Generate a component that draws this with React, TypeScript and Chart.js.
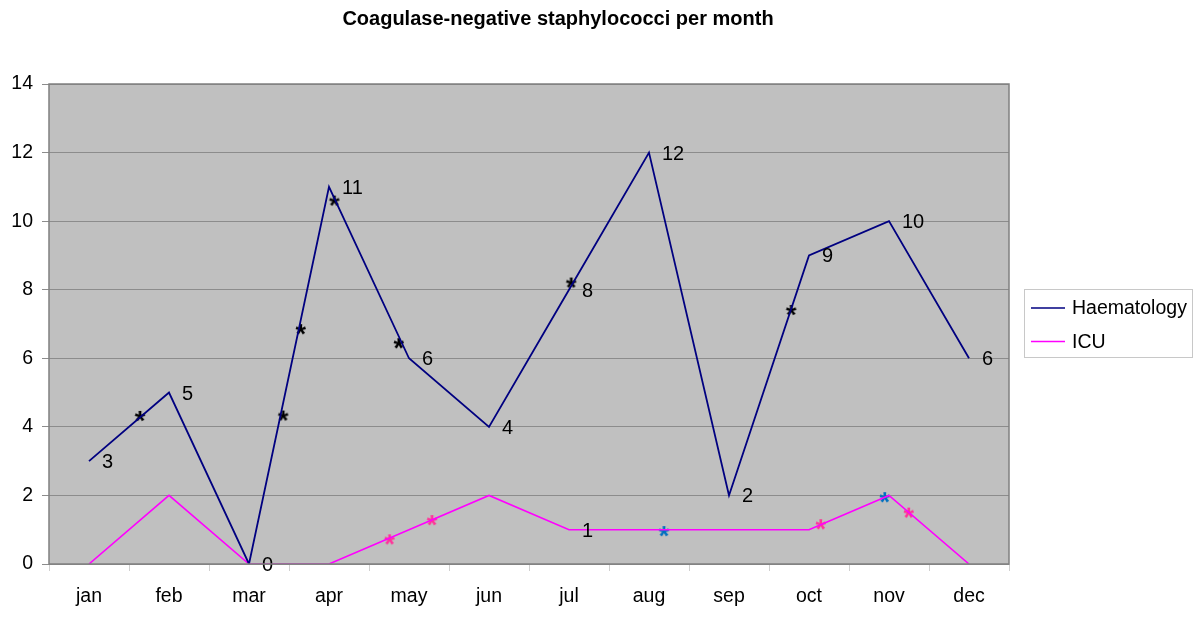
import React, { useEffect, useRef } from 'react';
import { Chart, registerables } from 'chart.js';

Chart.register(...registerables);

const TITLE = 'Coagulase-negative staphylococci per month';
const months = ['jan', 'feb', 'mar', 'apr', 'may', 'jun', 'jul', 'aug', 'sep', 'oct', 'nov', 'dec'];
const haematology = [3, 5, 0, 11, 6, 4, 8, 12, 2, 9, 10, 6];
const icu = [0, 2, 0, 0, 1, 2, 1, 1, 1, 1, 2, 0];
const haematologyLabels = ['3', '5', '0', '11', '6', '4', '8', '12', '2', '9', '10', '6'];
const icuLabels = ['', '', '', '', '', '', '1', '', '', '', '', ''];
const yTicks = [0, 2, 4, 6, 8, 10, 12, 14];

// asterisk annotations (x = fractional month index, y = value)
const blackStarX = [0.64, 2.43, 2.65, 3.07, 3.875, 6.03, 8.78];
const blackStarY = [4.32, 4.33, 6.85, 10.6, 6.44, 8.21, 7.41];
const pinkStarX = [3.76, 4.29, 9.15, 10.25];
const pinkStarY = [0.72, 1.28, 1.16, 1.5];
const blueStarX = [7.19, 9.95];
const blueStarY = [0.96, 1.95];

const FONT = '"Liberation Sans", Arial, sans-serif';

function makeStar(color: string): HTMLCanvasElement {
  const c = document.createElement('canvas');
  c.width = 20;
  c.height = 20;
  const ctx = c.getContext('2d')!;
  ctx.fillStyle = color;
  ctx.font = `bold 27px ${FONT}`;
  ctx.textAlign = 'left';
  ctx.textBaseline = 'alphabetic';
  const m = ctx.measureText('*');
  const w = m.actualBoundingBoxLeft + m.actualBoundingBoxRight;
  const h = m.actualBoundingBoxAscent + m.actualBoundingBoxDescent;
  const x = 10 - w / 2 + m.actualBoundingBoxLeft;
  const y = 10 - h / 2 + m.actualBoundingBoxAscent;
  ctx.fillText('*', x, y);
  return c;
}

const toPts = (xs: number[], ys: number[]) => xs.map((x, i) => ({ x, y: ys[i] }));

export default function App() {
  const ref = useRef<HTMLCanvasElement | null>(null);

  useEffect(() => {
    if (!ref.current) return;
    const blackStar = makeStar('#000000');
    const pinkStar = makeStar('#FF3399');
    const blueStar = makeStar('#0070C0');

    const bgPlugin = {
      id: 'bgPlugin',
      beforeDraw(chart: any) {
        const { ctx, chartArea: a } = chart;
        ctx.save();
        ctx.fillStyle = '#C0C0C0';
        ctx.fillRect(a.left, a.top, a.right - a.left, a.bottom - a.top);
        ctx.restore();
      },
      afterDraw(chart: any) {
        const { ctx, chartArea: a } = chart;
        ctx.save();
        ctx.strokeStyle = '#808080';
        ctx.lineWidth = 1.5;
        ctx.strokeRect(a.left, a.top, a.right - a.left, a.bottom - a.top);
        // title
        ctx.fillStyle = '#000';
        ctx.font = `bold 20px ${FONT}`;
        ctx.textAlign = 'center';
        ctx.textBaseline = 'middle';
        ctx.fillText(TITLE, 558, 19);
        // legend
        const lx = 1024, ly = 289, lw = 168, lh = 68;
        ctx.fillStyle = '#fff';
        ctx.fillRect(lx, ly, lw, lh);
        ctx.strokeStyle = '#c8c8c8';
        ctx.lineWidth = 1;
        ctx.strokeRect(lx + 0.5, ly + 0.5, lw, lh);
        const items = [0, 1].map((i) => chart.data.datasets[i]);
        items.forEach((ds: any, i: number) => {
          const y = 308 + i * 33.5;
          ctx.strokeStyle = ds.borderColor;
          ctx.lineWidth = 1.6;
          ctx.beginPath();
          ctx.moveTo(1031, y);
          ctx.lineTo(1065, y);
          ctx.stroke();
          ctx.fillStyle = '#000';
          ctx.font = `19.5px ${FONT}`;
          ctx.textAlign = 'left';
          ctx.textBaseline = 'middle';
          ctx.fillText(ds.label, 1072, y + 1);
        });
        ctx.restore();
      },
      afterDatasetsDraw(chart: any) {
        const { ctx } = chart;
        const sets = [haematologyLabels, icuLabels];
        ctx.save();
        ctx.fillStyle = '#000';
        ctx.font = `20px ${FONT}`;
        ctx.textAlign = 'left';
        ctx.textBaseline = 'middle';
        sets.forEach((labels, di) => {
          const meta = chart.getDatasetMeta(di);
          meta.data.forEach((pt: any, j: number) => {
            const t = labels[j];
            if (!t) return;
            ctx.fillText(t, pt.x + 13, pt.y + 1.5);
          });
        });
        ctx.restore();
      },
    };

    const chart = new Chart(ref.current, {
      type: 'line',
      data: {
        labels: months,
        datasets: [
          {
            label: 'Haematology',
            data: haematology,
            borderColor: '#000080',
            borderWidth: 1.8,
            pointRadius: 0,
            tension: 0,
            xAxisID: 'x',
            yAxisID: 'y',
          },
          {
            label: 'ICU',
            data: icu,
            borderColor: '#FF00FF',
            borderWidth: 1.6,
            pointRadius: 0,
            tension: 0,
            xAxisID: 'x',
            yAxisID: 'y',
          },
          {
            type: 'scatter',
            label: 'stars-black',
            data: toPts(blackStarX, blackStarY),
            pointStyle: blackStar,
            showLine: false,
            xAxisID: 'xs',
            yAxisID: 'y',
          },
          {
            type: 'scatter',
            label: 'stars-pink',
            data: toPts(pinkStarX, pinkStarY),
            pointStyle: pinkStar,
            showLine: false,
            xAxisID: 'xs',
            yAxisID: 'y',
          },
          {
            type: 'scatter',
            label: 'stars-blue',
            data: toPts(blueStarX, blueStarY),
            pointStyle: blueStar,
            showLine: false,
            xAxisID: 'xs',
            yAxisID: 'y',
          },
        ] as any,
      },
      options: {
        responsive: false,
        animation: false,
        layout: { padding: { left: 0, right: 191, top: 84, bottom: 0 } },
        plugins: {
          legend: { display: false },
          title: { display: false },
          tooltip: { enabled: false },
        },
        scales: {
          x: {
            type: 'category',
            offset: true,
            grid: {
              offset: true,
              drawOnChartArea: false,
              drawTicks: true,
              tickLength: 7,
              color: '#d0d0d0',
            },
            border: { display: false },
            ticks: {
              color: '#000',
              font: { family: FONT, size: 19.5 },
              padding: 14,
              maxRotation: 0,
              autoSkip: false,
            },
            afterFit: (s: any) => {
              s.height = 58;
            },
          },
          xs: {
            type: 'linear',
            display: false,
            min: -0.5,
            max: 11.5,
          },
          y: {
            type: 'linear',
            min: 0,
            max: 14,
            afterBuildTicks: (s: any) => {
              s.ticks = yTicks.map((v) => ({ value: v }));
            },
            grid: {
              color: '#8c8c8c',
              lineWidth: 1,
              tickLength: 7,
            },
            border: { display: false },
            ticks: {
              color: '#000',
              font: { family: FONT, size: 19.5 },
              padding: 9,
            },
            afterFit: (s: any) => {
              s.width = 49;
            },
          },
        },
      } as any,
      plugins: [bgPlugin],
    });
    return () => chart.destroy();
  }, []);

  return (
    <div style={{ position: 'fixed', left: 0, top: 0, width: 1200, height: 622, background: '#fff' }}>
      <canvas ref={ref} width={1200} height={622} style={{ display: 'block' }} />
    </div>
  );
}
